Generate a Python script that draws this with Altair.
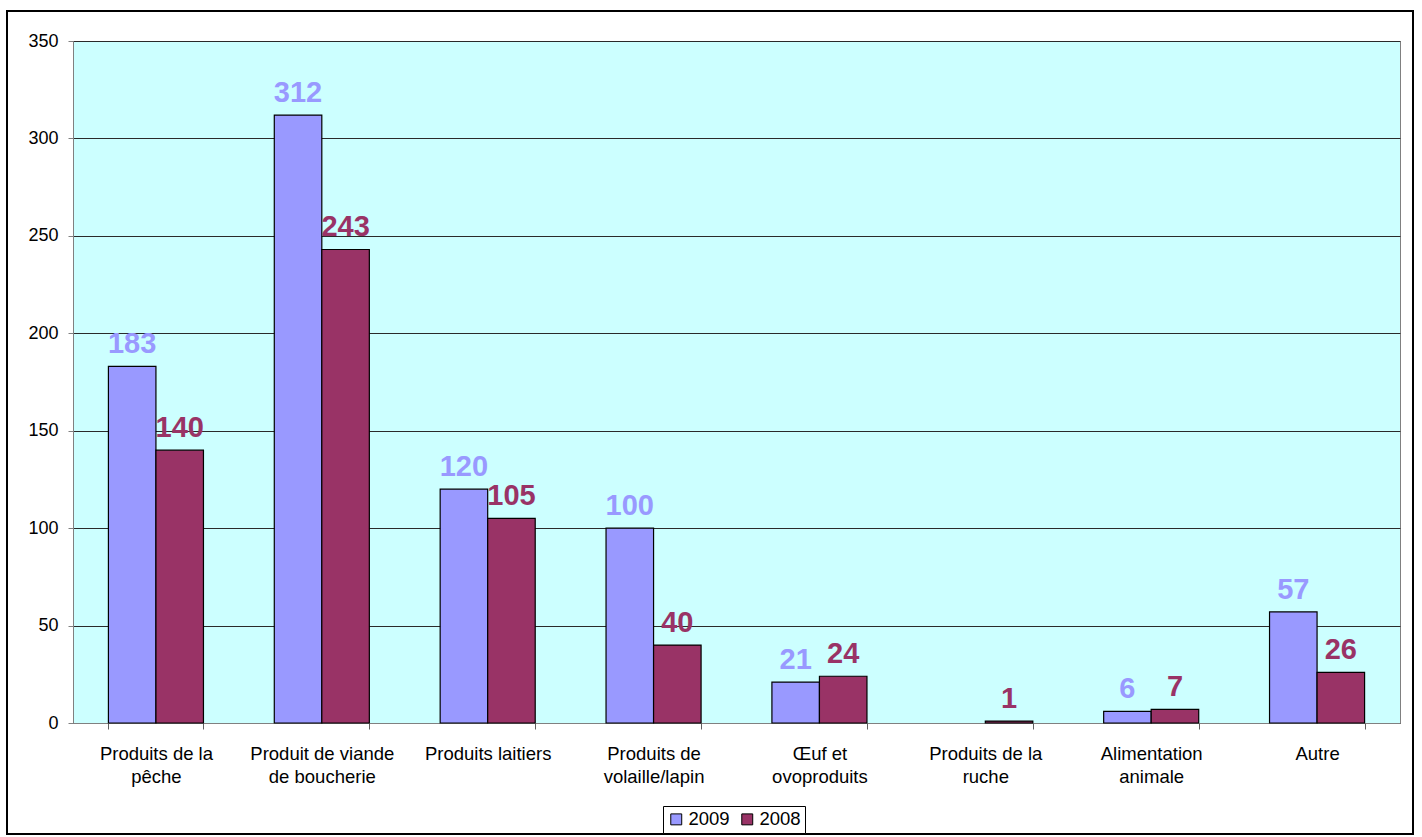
import altair as alt
import pandas as pd

categories = [
    "Produits de la\npêche",
    "Produit de viande\nde boucherie",
    "Produits laitiers",
    "Produits de\nvolaille/lapin",
    "Œuf et\novoproduits",
    "Produits de la\nruche",
    "Alimentation\nanimale",
    "Autre",
]
values_2009 = [183, 312, 120, 100, 21, None, 6, 57]
values_2008 = [140, 243, 105, 40, 24, 1, 7, 26]
years = ["2009", "2008"]
colors = ["#9999FF", "#993366"]
y_ticks = [0, 50, 100, 150, 200, 250, 300, 350]

rows = []
for cat, v9, v8 in zip(categories, values_2009, values_2008):
    for year, v in (("2009", v9), ("2008", v8)):
        if v is not None:
            rows.append({"categorie": cat, "annee": year, "valeur": v})
df = pd.DataFrame(rows)

FONT = "Liberation Sans"

x_enc = alt.X(
    "categorie:N",
    sort=categories,
    scale=alt.Scale(paddingInner=0.427, paddingOuter=0.2135),
    axis=alt.Axis(
        title=None,
        labelAngle=0,
        labelExpr="split(datum.label, '\\n')",
        labelFontSize=18.5,
        labelColor="black",
        labelPadding=15,
        labelLineHeight=23,
        labelLimit=400,
        labelBaseline="top",
        tickBand="extent",
        tickSize=6,
        tickColor="#606060",
        domainColor="#808080",
        grid=False,
    ),
)
xoff_enc = alt.XOffset(
    "annee:N", sort=years,
    scale=alt.Scale(domain=years, paddingInner=0, paddingOuter=0),
)
y_enc = alt.Y(
    "valeur:Q",
    scale=alt.Scale(domain=[0, 350], nice=False),
    axis=alt.Axis(
        title=None,
        values=y_ticks,
        labelFontSize=18,
        labelColor="black",
        labelPadding=10,
        tickSize=5,
        tickColor="#808080",
        domainColor="#808080",
        gridColor="#2a2a2a",
        gridWidth=1,
    ),
)
color_enc = alt.Color(
    "annee:N",
    sort=years,
    scale=alt.Scale(domain=years, range=colors),
    legend=alt.Legend(
        title=None,
        orient="none",
        legendX=590,
        legendY=765,
        direction="horizontal",
        symbolType="square",
        symbolSize=120,
        symbolStrokeColor="black",
        symbolStrokeWidth=1,
        symbolOpacity=1,
        labelFontSize=18.5,
        labelColor="black",
        labelOffset=3,
        columnPadding=8,
        strokeColor="black",
        fillColor="white",
        padding=4,
    ),
)

base = alt.Chart(df)

bars = base.mark_bar(stroke="black", strokeWidth=1.2).encode(
    x=x_enc, xOffset=xoff_enc, y=y_enc, color=color_enc
)

labels = base.mark_text(
    fontSize=29, fontWeight="bold", baseline="alphabetic", dy=-13, font=FONT
).encode(
    x=x_enc, xOffset=xoff_enc, y=y_enc, color=color_enc, text="valeur:Q"
)

frame = alt.Chart(alt.Data(values=[{}])).mark_rect(
    fillOpacity=0, stroke="black", strokeWidth=2
).encode(
    x=alt.value(-66), x2=alt.value(1340), y=alt.value(-30), y2=alt.value(793)
)

chart = (
    alt.layer(bars, labels, frame)
    .properties(
        width=1327,
        height=682,
        autosize=alt.AutoSizeParams(type="none"),
        padding={"left": 73, "top": 41, "right": 22, "bottom": 114},
        background="white",
    )
    .configure(font=FONT)
    .configure_view(fill="#CCFFFF", stroke="#808080", strokeWidth=1)
)

chart.save("out.html", embed_options={"renderer": "svg", "actions": False})
